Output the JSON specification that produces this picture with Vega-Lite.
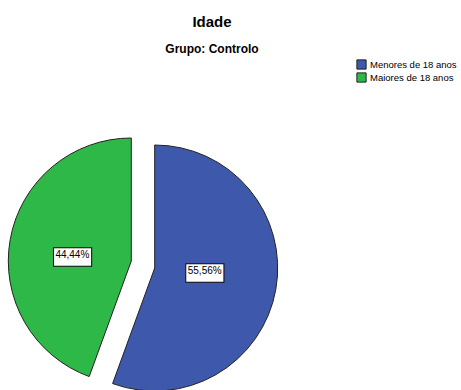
{
  "$schema": "https://vega.github.io/schema/vega-lite/v6.json",
  "autosize": "none",
  "width": 246,
  "height": 409,
  "padding": {"left": 20, "top": 60, "right": 195, "bottom": 0},
  "background": "white",
  "title": {
    "text": "Idade",
    "subtitle": "Grupo: Controlo",
    "anchor": "middle",
    "frame": "group",
    "dx": 69,
    "font": "Liberation Sans",
    "fontSize": 15,
    "fontWeight": "bold",
    "color": "black",
    "subtitleFont": "Liberation Sans",
    "subtitleFontSize": 12,
    "subtitleFontWeight": "bold",
    "subtitleColor": "black",
    "subtitlePadding": 14,
    "offset": 4
  },
  "data": {
    "values": [
      {"grupo": "Menores de 18 anos", "pct": 55.56, "rotulo": "55,56%"},
      {"grupo": "Maiores de 18 anos", "pct": 44.44, "rotulo": "44,44%"}
    ]
  },
  "encoding": {
    "theta": {"field": "pct", "type": "quantitative", "stack": true},
    "order": {"field": "pct", "sort": "descending"}
  },
  "layer": [
    {
      "mark": {"type": "arc", "stroke": "#222222", "strokeWidth": 1, "xOffset": 11.7, "yOffset": 3.5},
      "encoding": {
        "color": {
          "field": "grupo",
          "type": "nominal",
          "scale": {"domain": ["Menores de 18 anos", "Maiores de 18 anos"], "range": ["#3E58AC", "#2EB848"]},
          "legend": {
            "title": null,
            "orient": "none",
            "legendX": 336,
            "legendY": -1,
            "symbolType": "square",
            "symbolSize": 85,
            "symbolStrokeColor": "#333333",
            "symbolStrokeWidth": 1,
            "symbolOpacity": 1,
            "labelFont": "Liberation Sans",
            "labelFontSize": 9.5,
            "labelColor": "black",
            "labelOffset": 3,
            "labelLimit": 200,
            "rowPadding": -6,
            "padding": 0
          }
        },
        "opacity": {"condition": {"test": "datum.grupo === 'Menores de 18 anos'", "value": 1}, "value": 0}
      }
    },
    {
      "mark": {"type": "arc", "stroke": "#222222", "strokeWidth": 1, "xOffset": -11.7, "yOffset": -3.5},
      "encoding": {
        "color": {"field": "grupo", "type": "nominal"},
        "opacity": {"condition": {"test": "datum.grupo === 'Maiores de 18 anos'", "value": 1}, "value": 0}
      }
    },
    {
      "mark": {"type": "text", "text": "▬", "font": "DejaVu Sans", "fontSize": 50, "fill": "white", "stroke": "black", "strokeWidth": 1, "radius": 54, "xOffset": 8.5, "yOffset": -3, "align": "center", "baseline": "middle"},
      "encoding": {
        "opacity": {"condition": {"test": "datum.grupo === 'Menores de 18 anos'", "value": 1}, "value": 0}
      }
    },
    {
      "mark": {"type": "text", "text": "▬", "font": "DejaVu Sans", "fontSize": 50, "fill": "white", "stroke": "black", "strokeWidth": 1, "radius": 56, "xOffset": -15.5, "yOffset": 0.5, "align": "center", "baseline": "middle"},
      "encoding": {
        "opacity": {"condition": {"test": "datum.grupo === 'Maiores de 18 anos'", "value": 1}, "value": 0}
      }
    },
    {
      "mark": {"type": "text", "font": "Liberation Sans", "fontSize": 10, "color": "black", "radius": 54, "xOffset": 8.5, "yOffset": -3, "align": "center", "baseline": "middle"},
      "encoding": {
        "text": {"field": "rotulo"},
        "opacity": {"condition": {"test": "datum.grupo === 'Menores de 18 anos'", "value": 1}, "value": 0}
      }
    },
    {
      "mark": {"type": "text", "font": "Liberation Sans", "fontSize": 10, "color": "black", "radius": 56, "xOffset": -15.5, "yOffset": 0.5, "align": "center", "baseline": "middle"},
      "encoding": {
        "text": {"field": "rotulo"},
        "opacity": {"condition": {"test": "datum.grupo === 'Maiores de 18 anos'", "value": 1}, "value": 0}
      }
    }
  ],
  "config": {"view": {"stroke": null}}
}
